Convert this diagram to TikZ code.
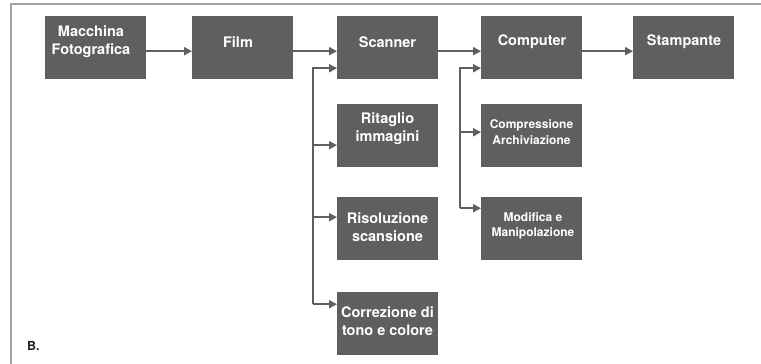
\documentclass[tikz,border=0pt]{standalone}
\usepackage{fontspec}
\setmainfont{TeX Gyre Heros}
\usetikzlibrary{arrows.meta}
\definecolor{boxgray}{HTML}{5E5F61}
\definecolor{framegray}{HTML}{A2A2A2}
\definecolor{darktext}{HTML}{222222}
\begin{document}
\begin{tikzpicture}[x=1pt,y=-1pt,
  box/.style={fill=boxgray, draw=none, minimum width=101pt, minimum height=63pt, inner sep=0pt, anchor=north west},
  lbl/.style={text=white, font=\bfseries\fontsize{14.5}{18}\selectfont, align=center, inner sep=0pt},
  slbl/.style={text=white, font=\bfseries\fontsize{12}{15.5}\selectfont, align=center, inner sep=0pt},
  lin/.style={draw=boxgray, line width=2pt},
  arr/.style={lin, -{Triangle[length=8pt,width=8pt]}}]
\useasboundingbox (0,0) rectangle (761,364);
% frame
\draw[framegray, line width=2pt] (10.5,364) -- (10.5,3.5) -- (761,3.5);
% boxes
\node[box] (mac) at (45,16) {};
\node[box] (film) at (192,16) {};
\node[box] (scan) at (337,16) {};
\node[box] (comp) at (481,16) {};
\node[box] (stam) at (633,16) {};
\node[box] (rit) at (337,104) {};
\node[box] (ris) at (337,197) {};
\node[box] (cor) at (337,292) {};
\node[box] (arch) at (481,104) {};
\node[box] (mod) at (481,197) {};
% labels
\node[lbl] (tmac) at (91,42) {Macchina\\Fotografica};
\node[lbl] (tfilm) at (238,42) {Film};
\node[lbl] (tscan) at (387.5,42) {Scanner};
\node[lbl] (tcomp) at (532,42) {Computer};
\node[lbl] (tstam) at (684,42) {Stampante};
\node[lbl] (trit) at (387.5,129) {Ritaglio\\immagini};
\node[lbl] (tris) at (387.5,227) {Risoluzione\\scansione};
\node[lbl] (tcor) at (387.5,321) {Correzione di\\tono e colore};
\node[slbl] (tarch) at (531.5,132) {Compressione\\Archiviazione};
\node[slbl] (tmod) at (533,226) {Modifica e\\Manipolazione};
\node[text=darktext, font=\bfseries\fontsize{12.5}{15}\selectfont, anchor=base west, inner sep=0pt] (lblB) at (27,350) {B.};
% main chain
\draw[arr] ([yshift=-3.5pt]mac.east) -- ([yshift=-3.5pt]film.west);
\draw[arr] ([yshift=-3.5pt]film.east) -- ([yshift=-3.5pt]scan.west);
\draw[arr] ([yshift=-3.5pt]scan.east) -- ([yshift=-3.5pt]comp.west);
\draw[arr] ([yshift=-3.5pt]comp.east) -- ([yshift=-3.5pt]stam.west);
% scanner branch
\coordinate (bus1) at (313,0);
\draw[arr] ([yshift=19.5pt]cor.west -| bus1) -- ([yshift=-20.5pt]scan.west -| bus1) -- ([yshift=-20.5pt]scan.west);
\draw[arr] ([yshift=-9.5pt]rit.west -| bus1) -- ([yshift=-9.5pt]rit.west);
\draw[arr] ([yshift=11.5pt]ris.west -| bus1) -- ([yshift=11.5pt]ris.west);
\draw[arr] ([yshift=19.5pt]cor.west -| bus1) -- ([yshift=19.5pt]cor.west);
% computer branch
\coordinate (bus2) at (460,0);
\draw[arr] ([yshift=20.5pt]mod.west -| bus2) -- ([yshift=-20.5pt]comp.west -| bus2) -- ([yshift=-20.5pt]comp.west);
\draw[arr] ([yshift=3.5pt]arch.west -| bus2) -- ([yshift=3.5pt]arch.west);
\draw[arr] ([yshift=20.5pt]mod.west -| bus2) -- ([yshift=20.5pt]mod.west);
\end{tikzpicture}
\end{document}
